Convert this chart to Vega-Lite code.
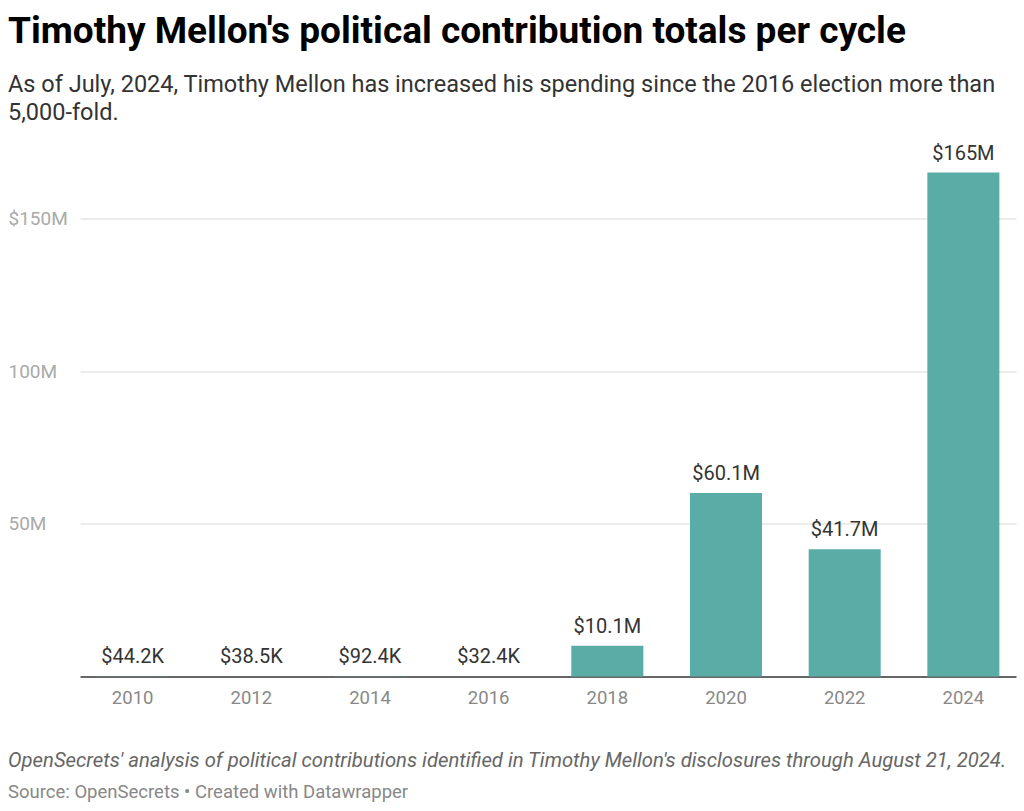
{
  "$schema": "https://vega.github.io/schema/vega-lite/v6.json",
  "padding": {"left": 8, "right": 8, "top": 12.5, "bottom": 4},
  "background": "white",
  "config": {"view": {"stroke": null}, "font": "Roboto"},
  "spacing": 43.5,
  "vconcat": [
    {
      "title": {
        "text": "Timothy Mellon's political contribution totals per cycle",
        "subtitle": ["As of July, 2024, Timothy Mellon has increased his spending since the 2016 election more than", "5,000-fold."],
        "anchor": "start", "frame": "bounds",
        "font": "Roboto", "fontSize": 37, "fontWeight": "bold", "color": "#000",
        "subtitleFont": "Roboto", "subtitleFontSize": 23.5, "subtitleColor": "#333", "subtitleLineHeight": 28, "subtitlePadding": 22,
        "offset": 18
      },
      "width": 936,
      "height": 504,
      "data": {"values": [
        {"year": "2010", "value": 44200, "label": "$44.2K"},
        {"year": "2012", "value": 38500, "label": "$38.5K"},
        {"year": "2014", "value": 92400, "label": "$92.4K"},
        {"year": "2016", "value": 32400, "label": "$32.4K"},
        {"year": "2018", "value": 10100000, "label": "$10.1M"},
        {"year": "2020", "value": 60100000, "label": "$60.1M"},
        {"year": "2022", "value": 41700000, "label": "$41.7M"},
        {"year": "2024", "value": 165000000, "label": "$165M"}
      ]},
      "encoding": {
        "x": {"field": "year", "type": "nominal", "sort": null,
          "scale": {"paddingInner": 0.393, "paddingOuter": 0.14},
          "axis": {"title": null, "labelAngle": 0, "ticks": false, "labelPadding": 12, "labelFontSize": 18.5, "labelColor": "#888", "labelFont": "Roboto", "domainColor": "#333", "domainWidth": 1.5, "grid": false}},
        "y": {"field": "value", "type": "quantitative",
          "scale": {"domain": [0, 165000000], "nice": false},
          "axis": {"title": null, "values": [50000000, 100000000, 150000000],
            "labelExpr": "datum.value == 150000000 ? '$150M' : (datum.value/1000000) + 'M'",
            "labelAlign": "left", "labelPadding": 72, "ticks": false, "tickSize": 0, "domain": false,
            "grid": true, "gridColor": "#e6e6e6", "gridWidth": 1.3, "labelColor": "#aaa", "labelFontSize": 19, "labelFont": "Roboto", "labelBaseline": "middle"}}
      },
      "layer": [
        {"mark": {"type": "bar", "color": "#5aaca7"}},
        {"mark": {"type": "text", "baseline": "alphabetic", "dy": -13, "fontSize": 20, "color": "#333", "font": "Roboto"},
         "encoding": {"text": {"field": "label"}}}
      ]
    },
    {
      "title": {
        "text": "OpenSecrets' analysis of political contributions identified in Timothy Mellon's disclosures through August 21, 2024.",
        "subtitle": "Source: OpenSecrets • Created with Datawrapper",
        "anchor": "start", "frame": "bounds", "orient": "top", "dx": -72,
        "font": "Roboto", "fontSize": 20.3, "fontStyle": "italic", "fontWeight": "normal", "color": "#666",
        "subtitleFont": "Roboto", "subtitleFontSize": 18.5, "subtitleColor": "#888", "subtitleFontStyle": "normal", "subtitlePadding": 11,
        "offset": 0
      },
      "width": 936,
      "height": 1,
      "data": {"values": []},
      "mark": "point"
    }
  ]
}
